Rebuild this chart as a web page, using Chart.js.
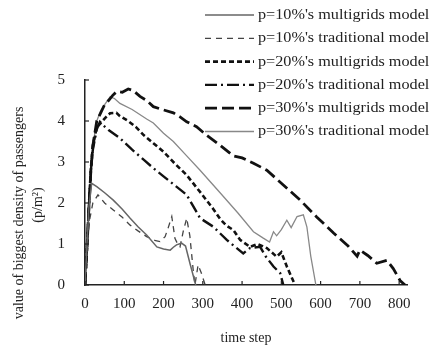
<!DOCTYPE html>
<html>
<head>
<meta charset="utf-8">
<script src="https://cdn.jsdelivr.net/npm/chart.js@4.4.1/dist/chart.umd.min.js"></script>
<style>
  body { margin: 0; background: #fff; }
  #wrap { width: 435px; height: 351px; }
</style>
</head>
<body>
<div id="wrap"><canvas id="densityChart"></canvas></div>
<script>
Chart.defaults.font.family = "'Liberation Serif', 'DejaVu Serif', serif";
Chart.defaults.color = "#222";

const seriesNames = ["p=10%'s multigrids model", "p=10%'s traditional model", "p=20%'s multigrids model",
  "p=20%'s traditional model", "p=30%'s multigrids model", "p=30%'s traditional model"];
const xTicks = [0, 100, 200, 300, 400, 500, 600, 700, 800];
const yTicks = [0, 1, 2, 3, 4, 5];

// time steps / densities
const mg10T = [0, 5, 10, 17, 30, 50, 72, 95, 115, 135, 157, 183, 200, 217, 225, 233, 246, 256, 268, 282];
const mg10V = [0, 1.0, 1.9, 2.48, 2.4, 2.25, 2.07, 1.85, 1.63, 1.42, 1.22, 0.93, 0.88, 0.85, 0.92, 0.98, 1.02, 0.95, 0.5, 0];

const tr10T = [0, 5, 10, 20, 33, 50, 72, 95, 115, 135, 157, 180, 191, 204, 212, 221, 229, 236, 242, 250, 259, 267, 276, 280, 288, 296, 306];
const tr10V = [0, 0.8, 1.5, 2.0, 2.2, 2.0, 1.83, 1.65, 1.46, 1.32, 1.18, 1.08, 1.06, 1.18, 1.4, 1.67, 1.14, 1.0, 0.93, 1.3, 1.63, 1.2, 0.32, 0, 0.49, 0.3, 0];

const mg20T = [0, 5, 10, 15, 20, 30, 40, 51, 64, 80, 89, 110, 130, 150, 174, 200, 230, 259, 293, 327, 345, 360, 378, 395, 420, 440, 463, 475, 488, 500, 514, 527, 535];
const mg20V = [0, 0.9, 1.9, 2.8, 3.4, 3.85, 3.95, 4.07, 4.19, 4.2, 4.12, 4.0, 3.85, 3.65, 3.46, 3.25, 2.95, 2.68, 2.27, 1.85, 1.6, 1.45, 1.34, 1.1, 0.93, 1.0, 0.9, 0.8, 0.69, 0.8, 0.45, 0.17, 0];

const tr20T = [0, 5, 10, 15, 20, 30, 38, 46, 60, 89, 120, 150, 174, 200, 230, 259, 293, 327, 345, 361, 380, 403, 420, 446, 460, 480, 497, 505];
const tr20V = [0, 0.9, 1.9, 2.8, 3.3, 3.8, 3.98, 3.9, 3.78, 3.58, 3.3, 3.05, 2.85, 2.65, 2.42, 2.2, 1.63, 1.42, 1.25, 1.1, 0.95, 0.77, 0.9, 0.93, 0.7, 0.45, 0.29, 0];

const mg30T = [0, 5, 10, 15, 20, 30, 40, 50, 60, 70, 81, 95, 110, 123, 140, 157, 174, 200, 225, 242, 259, 284, 310, 344, 378, 400, 429, 463, 505, 548, 590, 633, 670, 693, 700, 720, 743, 769, 785, 803, 815];
const mg30V = [0, 0.9, 1.9, 2.8, 3.4, 4.0, 4.2, 4.4, 4.5, 4.62, 4.72, 4.7, 4.78, 4.74, 4.6, 4.5, 4.35, 4.27, 4.2, 4.1, 3.98, 3.86, 3.65, 3.41, 3.15, 3.1, 2.97, 2.8, 2.44, 2.07, 1.66, 1.27, 0.95, 0.7, 0.85, 0.72, 0.53, 0.6, 0.4, 0.1, 0];

const tr30T = [0, 5, 10, 15, 20, 30, 40, 50, 64, 75, 89, 120, 157, 174, 200, 225, 259, 293, 344, 390, 429, 453, 470, 480, 488, 500, 514, 525, 540, 556, 565, 575, 588];
const tr30V = [0, 0.9, 1.9, 2.8, 3.4, 4.0, 4.25, 4.4, 4.59, 4.55, 4.43, 4.28, 4.05, 3.95, 3.7, 3.5, 3.15, 2.8, 2.25, 1.75, 1.3, 1.15, 1.05, 1.3, 1.2, 1.35, 1.58, 1.4, 1.67, 1.71, 1.42, 0.7, 0];

function pts(ts, vs) {
  return ts.map((t, i) => ({ x: t, y: vs[i] }));
}

const styles = [
  { color: "#666", width: 1.5, dash: [] },
  { color: "#444", width: 1.3, dash: [6, 5] },
  { color: "#111", width: 2.6, dash: [5, 3] },
  { color: "#111", width: 2.4, dash: [12, 4, 2, 4] },
  { color: "#111", width: 2.8, dash: [12, 5] },
  { color: "#888", width: 1.3, dash: [] },
];
const allData = [pts(mg10T, mg10V), pts(tr10T, tr10V), pts(mg20T, mg20V), pts(tr20T, tr20V), pts(mg30T, mg30V), pts(tr30T, tr30V)];

const datasets = allData.map((d, i) => ({
  label: seriesNames[i],
  data: d,
  borderColor: styles[i].color,
  borderWidth: styles[i].width,
  borderDash: styles[i].dash,
  pointRadius: 0,
  tension: 0,
  fill: false,
}));

const extras = {
  id: "extras",
  afterDraw(chart) {
    const ctx = chart.ctx;
    const xs = chart.scales.x, ys = chart.scales.y;
    ctx.save();
    // inward tick marks
    ctx.strokeStyle = "#222";
    ctx.lineWidth = 1.2;
    ctx.setLineDash([]);
    xTicks.forEach(t => {
      const px = xs.getPixelForValue(t);
      ctx.beginPath(); ctx.moveTo(px, ys.bottom); ctx.lineTo(px, ys.bottom - 4); ctx.stroke();
    });
    yTicks.forEach(v => {
      const py = ys.getPixelForValue(v);
      ctx.beginPath(); ctx.moveTo(xs.left, py); ctx.lineTo(xs.left + 4, py); ctx.stroke();
    });
    // legend
    ctx.font = "15px 'Liberation Serif'";
    ctx.textBaseline = "middle";
    ctx.fillStyle = "#222";
    chart.data.datasets.forEach((ds, i) => {
      const y = 15 + i * 23.3;
      ctx.strokeStyle = ds.borderColor;
      ctx.lineWidth = ds.borderWidth;
      ctx.setLineDash(ds.borderDash);
      ctx.beginPath(); ctx.moveTo(205, y); ctx.lineTo(254, y); ctx.stroke();
      ctx.save();
      ctx.translate(258, y);
      ctx.scale(1.08, 1);
      ctx.fillText(ds.label, 0, 0);
      ctx.restore();
    });
    // y axis title
    ctx.font = "14px 'Liberation Serif'";
    ctx.textAlign = "center";
    ctx.translate(19, 213);
    ctx.rotate(-Math.PI / 2);
    ctx.fillText("value of biggest density of passengers", 0, 0);
    ctx.fillText("(p/m²)", 8, 19);
    ctx.restore();
  }
};

const config = {
  type: "line",
  data: { datasets: datasets },
  options: {
    responsive: true,
    maintainAspectRatio: false,
    animation: false,
    layout: { padding: { top: 80, right: 28, left: 0, bottom: 0 } },
    plugins: { legend: { display: false }, tooltip: { enabled: false } },
    scales: {
      x: {
        type: "linear",
        min: 0,
        max: 820,
        afterBuildTicks: s => { s.ticks = xTicks.map(v => ({ value: v })); },
        afterFit: s => { s.height = 66; },
        ticks: { font: { size: 15 }, padding: 10, maxRotation: 0 },
        grid: { display: false, drawTicks: false },
        border: { display: true, color: "#222", width: 1.5 },
        title: { display: true, text: "time step", font: { size: 14 }, padding: { top: 4, bottom: 4 } },
      },
      y: {
        type: "linear",
        min: 0,
        max: 5,
        afterBuildTicks: s => { s.ticks = yTicks.map(v => ({ value: v })); },
        afterFit: s => { s.width = 85; },
        ticks: { font: { size: 15 }, padding: 20 },
        grid: { display: false, drawTicks: false },
        border: { display: true, color: "#222", width: 1.5 },
      },
    },
  },
  plugins: [extras],
};

const densityChart = new Chart(document.getElementById("densityChart"), config);
</script>
</body>
</html>
